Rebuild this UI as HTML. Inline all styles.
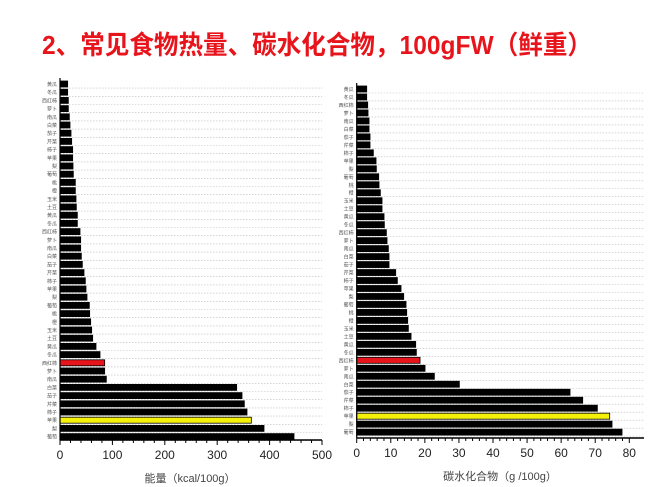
<!DOCTYPE html>
<html><head><meta charset="utf-8"><style>
html,body{margin:0;padding:0;background:#fff;}
svg{display:block;}
</style></head><body>
<svg id="s" width="650" height="487" viewBox="0 0 650 487" xmlns="http://www.w3.org/2000/svg" font-family="'Liberation Sans','Noto Sans CJK SC',sans-serif">
<rect width="650" height="487" fill="#fff"/>
<text x="42" y="54" font-size="26" font-weight="bold" fill="#e8141b" textLength="550" lengthAdjust="spacingAndGlyphs">2、常见食物热量、碳水化合物，100gFW（鲜重）</text>
<g id="L"></g><g id="R"></g>
<text x="190" y="482" font-size="11" fill="#444" text-anchor="middle">能量（kcal/100g）</text>
<text x="500" y="480" font-size="11" fill="#444" text-anchor="middle">碳水化合物（g /100g）</text>
</svg>
<script>
var NS="http://www.w3.org/2000/svg";
function el(p,t,a,txt){var e=document.createElementNS(NS,t);for(var k in a)e.setAttribute(k,a[k]);if(txt!=null)e.textContent=txt;p.appendChild(e);return e;}
var words=["黄瓜","冬瓜","西红柿","萝卜","南瓜","白菜","茄子","芹菜","柿子","苹果","梨","葡萄","桃","橙","玉米","土豆"];
function chart(g,ends,x0,scale,yTop,pitch,axisY,xEnd,maxV,major,minor,red,yellow){
  var n=ends.length;
  for(var i=0;i<n;i++){
    var cy=yTop+i*pitch;
    el(g,"line",{x1:x0,x2:xEnd,y1:cy+pitch/2,y2:cy+pitch/2,stroke:"#bbb","stroke-width":0.6,"stroke-dasharray":"1.5,1.5"});
    var w=ends[i];
    var col=i==red?"#e8141b":(i==yellow?"#f5f00a":"#000");
    el(g,"rect",{x:x0,y:cy-3,width:w,height:6,fill:col,stroke:"#000","stroke-width":0.8});
    el(g,"text",{x:x0-3,y:cy+2,"font-size":5,fill:"#555","text-anchor":"end"},words[i%words.length]);
  }
  el(g,"line",{x1:x0,x2:x0,y1:yTop-6,y2:axisY,stroke:"#000","stroke-width":1.2});
  el(g,"line",{x1:x0,x2:xEnd,y1:axisY,y2:axisY,stroke:"#000","stroke-width":1.5});
  for(var v=0;v<=maxV+0.001;v+=minor){
    var x=x0+v*scale;
    var isM=Math.abs(v/major-Math.round(v/major))<1e-6;
    el(g,"line",{x1:x,x2:x,y1:axisY,y2:axisY+(isM?5:3),stroke:"#000","stroke-width":1});
    if(isM) el(g,"text",{x:x,y:axisY+19,"font-size":12,fill:"#222","text-anchor":"middle"},String(Math.round(v)));
  }
}
var Lz=[113,113,115,115,118,120,123,125,128,128,129,130,136,136,138,139,142,142,150,152,152,154,157,162,166,168,171,178,179,182,185,188,198,210,224,224,229,620,636,643,651,664,702,792];
var Lends=Lz.map(function(z){return (z-90)/3;});
chart(document.getElementById("L"),Lends,60,262/500,84,8.2,440,322,500,100,20,34,41);
var Rz=[140,140,143,144,147,147,150,150,160,168,169,176,177,181,186,186,192,193,199,201,205,207,207,227,232,243,251,258,260,263,265,273,287,289,300,315,343,418,750,788,832,869,876,906];
var Rends=Rz.map(function(z){return (z-110)/3;});
chart(document.getElementById("R"),Rends,356.7,272.6/80,89,7.98,438,644,80,10,2,34,41);
</script>
</body></html>
